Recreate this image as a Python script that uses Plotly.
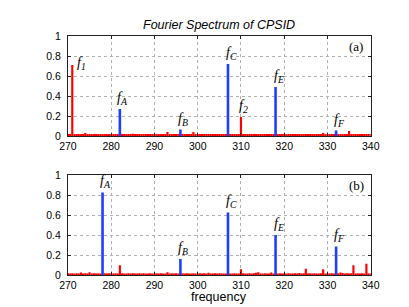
import plotly.graph_objects as go

# frequency grid for the red (background) spectrum: 270.0 .. 340.0 step 0.5
freq_start = 270.0
freq_step = 0.5

red_a = [
    0.012, 0.015, 0.710, 0.014, 0.012, 0.010, 0.013, 0.011, 0.030, 0.012,
    0.010, 0.013, 0.011, 0.012, 0.020, 0.011, 0.013, 0.010, 0.018, 0.012,
    0.011, 0.013, 0.012, 0.010, 0.012, 0.011, 0.013, 0.012, 0.015, 0.011,
    0.022, 0.012, 0.014, 0.020, 0.012, 0.010, 0.013, 0.011, 0.012, 0.010,
    0.012, 0.011, 0.013, 0.012, 0.014, 0.011, 0.040, 0.012, 0.011, 0.013,
    0.012, 0.010, 0.012, 0.011, 0.013, 0.012, 0.011, 0.013, 0.040, 0.012,
    0.011, 0.013, 0.012, 0.010, 0.012, 0.011, 0.013, 0.012, 0.011, 0.013,
    0.012, 0.010, 0.013, 0.011, 0.012, 0.011, 0.013, 0.012, 0.011, 0.012,
    0.190, 0.013, 0.012, 0.011, 0.013, 0.012, 0.010, 0.012, 0.011, 0.013,
    0.012, 0.011, 0.013, 0.012, 0.020, 0.013, 0.012, 0.011, 0.013, 0.012,
    0.011, 0.013, 0.012, 0.015, 0.011, 0.012, 0.013, 0.011, 0.014, 0.012,
    0.013, 0.011, 0.012, 0.010, 0.013, 0.012, 0.011, 0.013, 0.030, 0.011,
    0.012, 0.013, 0.011, 0.012, 0.013, 0.011, 0.012, 0.013, 0.011, 0.012,
    0.050, 0.012, 0.011, 0.013, 0.012, 0.011, 0.020, 0.012, 0.011, 0.013,
    0.012,
]

red_b = [
    0.022, 0.018, 0.020, 0.017, 0.021, 0.019, 0.028, 0.018, 0.020, 0.017,
    0.030, 0.019, 0.021, 0.018, 0.020, 0.017, 0.019, 0.021, 0.018, 0.020,
    0.019, 0.017, 0.021, 0.018, 0.100, 0.020, 0.018, 0.019, 0.021, 0.017,
    0.020, 0.018, 0.019, 0.021, 0.017, 0.020, 0.018, 0.019, 0.021, 0.018,
    0.019, 0.020, 0.018, 0.021, 0.019, 0.017, 0.030, 0.019, 0.020, 0.018,
    0.021, 0.017, 0.019, 0.020, 0.018, 0.021, 0.019, 0.017, 0.020, 0.018,
    0.019, 0.021, 0.018, 0.020, 0.017, 0.026, 0.019, 0.018, 0.021, 0.019,
    0.020, 0.018, 0.019, 0.017, 0.021, 0.019, 0.018, 0.020, 0.017, 0.019,
    0.060, 0.020, 0.018, 0.019, 0.021, 0.017, 0.020, 0.026, 0.030, 0.019,
    0.018, 0.020, 0.019, 0.017, 0.028, 0.019, 0.021, 0.018, 0.020, 0.019,
    0.021, 0.018, 0.020, 0.019, 0.017, 0.021, 0.019, 0.024, 0.018, 0.020,
    0.065, 0.019, 0.021, 0.018, 0.020, 0.017, 0.019, 0.021, 0.062, 0.019,
    0.020, 0.018, 0.021, 0.019, 0.017, 0.020, 0.028, 0.024, 0.019, 0.021,
    0.018, 0.020, 0.100, 0.019, 0.021, 0.018, 0.020, 0.017, 0.115, 0.019,
    0.020,
]

blue_freq_a = [282, 296, 307, 318, 332]
blue_val_a = [0.27, 0.065, 0.72, 0.49, 0.055]
blue_lab_a = ["A", "B", "C", "E", "F"]

blue_freq_b = [278, 296, 307, 318, 332]
blue_val_b = [0.83, 0.165, 0.63, 0.405, 0.29]
blue_lab_b = ["A", "B", "C", "E", "F"]

red_peak_freq_a = [271, 310]
red_peak_val_a = [0.71, 0.19]
red_peak_lab_a = ["1", "2"]

x_ticks = [270, 280, 290, 300, 310, 320, 330, 340]
y_ticks = [0, 0.2, 0.4, 0.6, 0.8, 1]

title_text = "Fourier Spectrum of CPSID"
xlabel_text = "frequency"

red_freq = [freq_start + freq_step * i for i in range(len(red_a))]

W, H = 409, 307
RED = "#ff0000"
BLUE = "#1f3fff"

fig = go.Figure()

x0, x1 = 53.3 / W, 370 / W
top_dom = [(H - 127) / H, (H - 23) / H]
bot_dom = [(H - 272) / H, (H - 168) / H]

fig.add_trace(go.Bar(x=red_freq, y=red_a, width=0.5, marker=dict(color=RED, line=dict(width=0)),
                     xaxis="x", yaxis="y", showlegend=False))
fig.add_trace(go.Bar(x=blue_freq_a, y=blue_val_a, width=0.6, marker=dict(color=BLUE, line=dict(width=0)),
                     xaxis="x", yaxis="y", showlegend=False))
fig.add_trace(go.Bar(x=red_freq, y=red_b, width=0.5, marker=dict(color=RED, line=dict(width=0)),
                     xaxis="x2", yaxis="y2", showlegend=False))
fig.add_trace(go.Bar(x=blue_freq_b, y=blue_val_b, width=0.6, marker=dict(color=BLUE, line=dict(width=0)),
                     xaxis="x2", yaxis="y2", showlegend=False))

axis_common = dict(
    showline=True, linecolor="#222", linewidth=1, mirror="ticks",
    ticks="inside", ticklen=3, tickcolor="#222",
    showgrid=True, gridcolor="#b0b0b0", griddash="dot", gridwidth=1,
    zeroline=False, tickfont=dict(family="Liberation Sans, Arial", size=10.5, color="#000"),
)

fig.update_layout(
    width=W, height=H, margin=dict(l=0, r=0, t=0, b=0),
    paper_bgcolor="white", plot_bgcolor="white", barmode="overlay",
    xaxis=dict(domain=[x0, x1], anchor="y", range=[270, 340], tickvals=x_ticks, **axis_common),
    yaxis=dict(domain=top_dom, anchor="x", range=[0, 1], tickvals=y_ticks, ticklabelstandoff=4,
               ticktext=[str(v) for v in y_ticks], **axis_common),
    xaxis2=dict(domain=[x0, x1], anchor="y2", range=[270, 340], tickvals=x_ticks, **axis_common),
    yaxis2=dict(domain=bot_dom, anchor="x2", range=[0, 1], tickvals=y_ticks, ticklabelstandoff=4,
                ticktext=[str(v) for v in y_ticks], **axis_common),
    font=dict(family="Liberation Sans, Arial", color="#000"),
)

serif = dict(family="Liberation Serif, Times New Roman", size=14, color="#000")
ann = []


def lab(sub):
    return "<i>f</i><sub><i>%s</i></sub>" % sub


for f, v, s in zip(blue_freq_a, blue_val_a, blue_lab_a):
    ann.append(dict(x=f + 0.7, y=v, xref="x", yref="y", text=lab(s), showarrow=False,
                    xanchor="center", yanchor="bottom", font=serif))
for f, v, s in zip(blue_freq_b, blue_val_b, blue_lab_b):
    ann.append(dict(x=f + 0.7, y=v, xref="x2", yref="y2", text=lab(s), showarrow=False,
                    xanchor="center", yanchor="bottom", font=serif))
# f1 label sits to the right of its bar, f2 above
ann.append(dict(x=red_peak_freq_a[0] + 0.6, y=red_peak_val_a[0] + 0.02, xref="x", yref="y",
                text=lab(red_peak_lab_a[0]), showarrow=False, xanchor="left", yanchor="middle", font=serif))
ann.append(dict(x=red_peak_freq_a[1] + 0.7, y=red_peak_val_a[1], xref="x", yref="y",
                text=lab(red_peak_lab_a[1]), showarrow=False, xanchor="center", yanchor="bottom", font=serif))

ann.append(dict(x=336.6, y=0.9, xref="x", yref="y", text="(a)", showarrow=False,
                xanchor="center", yanchor="middle", font=dict(family="Liberation Serif", size=13, color="#000")))
ann.append(dict(x=336.6, y=0.9, xref="x2", yref="y2", text="(b)", showarrow=False,
                xanchor="center", yanchor="middle", font=dict(family="Liberation Serif", size=13, color="#000")))

ann.append(dict(x=(x0 + x1) / 2, y=1 - 11 / H, xref="paper", yref="paper", text="<i>%s</i>" % title_text,
                showarrow=False, xanchor="center", yanchor="middle",
                font=dict(family="Liberation Sans, Arial", size=12.5, color="#000")))
ann.append(dict(x=(x0 + x1) / 2, y=1 - 294 / H, xref="paper", yref="paper", text=xlabel_text,
                showarrow=False, xanchor="center", yanchor="middle",
                font=dict(family="Liberation Sans, Arial", size=12.5, color="#000")))

fig.update_layout(annotations=ann)
fig.write_html("out.html")
